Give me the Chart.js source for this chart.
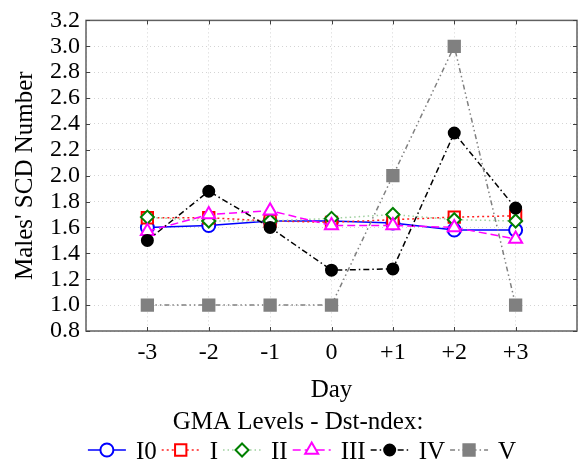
<!DOCTYPE html>
<html>
<head>
<meta charset="utf-8">
<script src="https://cdn.jsdelivr.net/npm/chart.js@4.4.1/dist/chart.umd.min.js"></script>
<style>
  html, body { margin: 0; padding: 0; background: #fff; }
  #wrap { width: 587px; height: 466px; }
</style>
</head>
<body>
<div id="wrap"><canvas id="scdChart" width="587" height="466"></canvas></div>
<script>
// Days around the geomagnetic event
const days = [-3, -2, -1, 0, 1, 2, 3];

// Males' SCD number per GMA level
const levelI0 = [1.60, 1.615, 1.65, 1.65, 1.635, 1.58, 1.58];
const levelI = [1.675, 1.675, 1.65, 1.64, 1.66, 1.68, 1.69];
const levelII = [1.68, 1.65, 1.65, 1.67, 1.70, 1.66, 1.65];
const levelIII = [1.57, 1.70, 1.73, 1.615, 1.615, 1.60, 1.51];
const levelIV = [1.50, 1.88, 1.60, 1.27, 1.28, 2.33, 1.75];
const levelV = [1.0, 1.0, 1.0, 1.0, 2.0, 3.0, 1.0];

const yTicks = [0.8, 1.0, 1.2, 1.4, 1.6, 1.8, 2.0, 2.2, 2.4, 2.6, 2.8, 3.0, 3.2];

const FONT = '"Liberation Serif", "Times New Roman", serif';
const legendTitle = 'GMA Levels - Dst-ndex:';

const toPoints = vals => vals.map((v, i) => ({ x: days[i], y: v }));

// style of each series
const styles = [
  { label: 'I0',  values: levelI0,  line: '#0000ff', dash: [],              marker: 'circle',   mColor: '#0000ff', fill: '#ffffff', r: 6.5 },
  { label: 'I',   values: levelI,   line: '#ff2020', dash: [2, 3],          marker: 'rect',     mColor: '#ff0000', fill: '#ffffff', r: 8 },
  { label: 'II',  values: levelII,  line: '#9fd09f', dash: [1.5, 3],        marker: 'rectRot',  mColor: '#008000', fill: '#ffffff', r: 6.5 },
  { label: 'III', values: levelIII, line: '#ff00ff', dash: [8, 4],          marker: 'triangle', mColor: '#ff00ff', fill: '#ffffff', r: 7.5 },
  { label: 'IV',  values: levelIV,  line: '#000000', dash: [6, 3, 1.5, 3],  marker: 'circle',   mColor: '#000000', fill: '#000000', r: 5.5 },
  { label: 'V',   values: levelV,   line: '#808080', dash: [5, 3, 1.5, 3, 1.5, 3], marker: 'rect', mColor: '#808080', fill: '#808080', r: 8 }
];

const datasets = styles.map((s, i) => ({
  label: s.label,
  data: toPoints(s.values),
  borderColor: s.line,
  borderWidth: 1.5,
  borderDash: s.dash,
  pointStyle: s.marker,
  pointRadius: s.r,
  pointBorderColor: s.mColor,
  pointBackgroundColor: s.fill,
  pointBorderWidth: 2,
  tension: 0,
  order: styles.length - i
}));

// marker for the hand-drawn legend
function drawMarker(ctx, s, x, y) {
  const r = s.r;
  ctx.save();
  ctx.setLineDash([]);
  ctx.lineWidth = 2;
  ctx.strokeStyle = s.mColor;
  ctx.fillStyle = s.fill;
  ctx.beginPath();
  if (s.marker === 'circle') {
    ctx.arc(x, y, r, 0, Math.PI * 2);
  } else if (s.marker === 'rect') {
    const h = r * Math.SQRT1_2;
    ctx.rect(x - h, y - h, 2 * h, 2 * h);
  } else if (s.marker === 'rectRot') {
    ctx.moveTo(x, y - r); ctx.lineTo(x + r, y); ctx.lineTo(x, y + r); ctx.lineTo(x - r, y);
    ctx.closePath();
  } else if (s.marker === 'triangle') {
    for (let k = 0; k < 3; k++) {
      const a = k * 2 * Math.PI / 3;
      const px = x + Math.sin(a) * r, py = y - Math.cos(a) * r;
      k ? ctx.lineTo(px, py) : ctx.moveTo(px, py);
    }
    ctx.closePath();
  }
  ctx.fill();
  ctx.stroke();
  ctx.restore();
}

// frame with inward ticks, legend title and legend row
const framePlugin = {
  id: 'frame',
  afterDraw(chart) {
    const { ctx, chartArea: a } = chart;
    const xs = chart.scales.x, ys = chart.scales.y;
    ctx.save();
    ctx.strokeStyle = '#606060';
    ctx.lineWidth = 1.5;
    ctx.strokeRect(a.left, a.top, a.right - a.left, a.bottom - a.top);
    ctx.lineWidth = 1;
    ctx.strokeStyle = '#404040';
    ctx.beginPath();
    days.forEach(d => {
      const px = Math.round(xs.getPixelForValue(d)) + 0.5;
      ctx.moveTo(px, a.bottom); ctx.lineTo(px, a.bottom - 4);
      ctx.moveTo(px, a.top); ctx.lineTo(px, a.top + 4);
    });
    yTicks.forEach(v => {
      const py = Math.round(ys.getPixelForValue(v)) + 0.5;
      ctx.moveTo(a.left, py); ctx.lineTo(a.left + 4, py);
      ctx.moveTo(a.right, py); ctx.lineTo(a.right - 4, py);
    });
    ctx.stroke();

    // legend
    ctx.fillStyle = '#000';
    ctx.font = '25px ' + FONT;
    ctx.textAlign = 'center';
    ctx.textBaseline = 'alphabetic';
    ctx.fillText(legendTitle, 298, 429);

    const symW = 38, gap = 10, pad = 5, rowY = 450, baseY = 459;
    ctx.textAlign = 'left';
    const widths = styles.map(s => symW + gap + ctx.measureText(s.label).width);
    const total = widths.reduce((p, q) => p + q, 0) + pad * (widths.length - 1);
    let x = 302 - total / 2;
    styles.forEach((s, i) => {
      ctx.save();
      ctx.strokeStyle = s.line;
      ctx.lineWidth = 1.5;
      ctx.setLineDash(s.dash);
      ctx.beginPath();
      ctx.moveTo(x, rowY); ctx.lineTo(x + symW, rowY);
      ctx.stroke();
      ctx.restore();
      drawMarker(ctx, s, x + symW / 2, rowY);
      ctx.fillStyle = '#000';
      ctx.fillText(s.label, x + symW + gap, baseY);
      x += widths[i] + pad;
    });
    ctx.restore();
  }
};

new Chart(document.getElementById('scdChart'), {
  type: 'line',
  data: { datasets },
  options: {
    responsive: false,
    animation: false,
    layout: { padding: { top: 15, right: 1, left: 0, bottom: 0 } },
    plugins: {
      legend: { display: false },
      tooltip: { enabled: false }
    },
    scales: {
      x: {
        type: 'linear',
        min: -4,
        max: 4,
        afterFit: scale => { scale.height = 135; },
        grid: { color: '#d4d4d4', drawTicks: false },
        border: { display: false, dash: [1, 3] },
        ticks: {
          stepSize: 1,
          autoSkip: false,
          maxRotation: 0,
          padding: 7,
          color: '#000',
          font: { family: FONT, size: 24 },
          callback: v => (v <= -4 || v >= 4) ? '' : (v > 0 ? '+' + v : String(v))
        },
        title: {
          display: true,
          text: 'Day',
          color: '#000',
          font: { family: FONT, size: 25 },
          padding: { top: 0, bottom: 61 }
        }
      },
      y: {
        min: 0.8,
        max: 3.2,
        afterFit: scale => { scale.width = 86; },
        grid: { color: '#d4d4d4', drawTicks: false },
        border: { display: false, dash: [1, 3] },
        ticks: {
          stepSize: 0.2,
          autoSkip: false,
          padding: 6,
          color: '#000',
          font: { family: FONT, size: 24 },
          callback: v => v.toFixed(1)
        },
        title: {
          display: true,
          text: "Males' SCD Number",
          color: '#000',
          font: { family: FONT, size: 25 },
          padding: { top: 10, bottom: 0 }
        }
      }
    }
  },
  plugins: [framePlugin]
});
</script>
</body>
</html>
